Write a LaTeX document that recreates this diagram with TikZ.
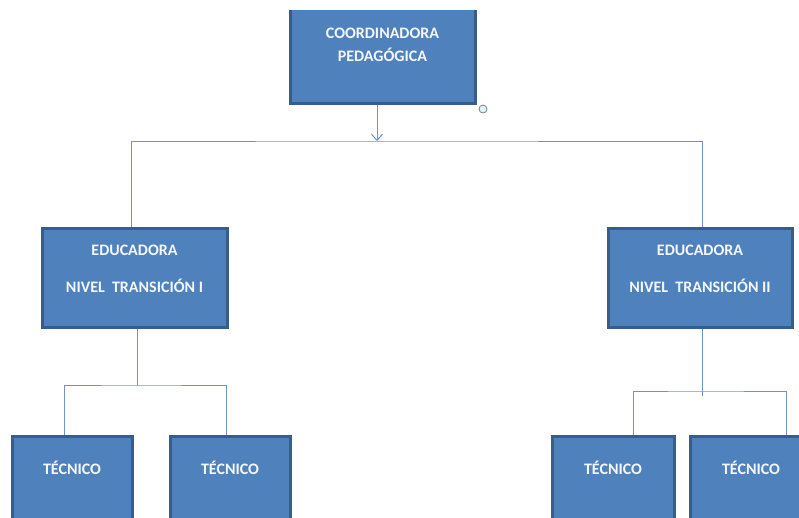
\documentclass[tikz,border=0pt]{standalone}
\usepackage{fontspec}
\setmainfont{Carlito}
\usetikzlibrary{arrows.meta, positioning}

\definecolor{boxfill}{RGB}{79,129,189}
\definecolor{boxline}{RGB}{56,93,138}
\definecolor{linkcol}{RGB}{110,147,204}
\definecolor{txtcol}{RGB}{244,247,252}

\begin{document}
\begin{tikzpicture}[
            x=1pt, y=-1pt,
            >=Stealth,
            box/.style={rectangle, draw=boxline, line width=3pt, fill=boxfill, inner sep=0pt},
            txt/.style={text=txtcol, font=\fontsize{16}{19}\selectfont\bfseries, align=center, inner sep=0pt},
            link/.style={draw=linkcol, line width=1pt},
            handle/.style={circle, draw=gray, fill=cyan!12, line width=0.8pt, minimum size=8pt, inner sep=0pt}
        ]

        \useasboundingbox (0,0) rectangle (799,517);
        \clip (0,0) rectangle (799,517);

        % Caja superior (recortada arriba)
        \begin{scope}
            \clip (0,10) rectangle (799,517);
            \node[box, minimum width=185pt, minimum height=113pt] (coord) at (382.5,46.5) {};
        \end{scope}
        \node[txt] (coordt) at (382.5,44.5) {COORDINADORA\\[4pt]PEDAGÓGICA};
        \node[handle] (hdl) at (483,109) {};

        % Educadoras
        \node[box, minimum width=185pt, minimum height=99pt] (edu1) at (134.5,277.5) {};
        \node[txt] (edu1t) at (134.5,268.5) {EDUCADORA\\[18pt]NIVEL\ \ TRANSICIÓN I};
        \node[box, minimum width=184pt, minimum height=99pt] (edu2) at (700,277.5) {};
        \node[txt] (edu2t) at (700,268.5) {EDUCADORA\\[18pt]NIVEL\ \ TRANSICIÓN II};

        % Tecnicos
        \node[box, minimum width=120pt, minimum height=110pt] (tec1a) at (72,491) {};
        \node[box, minimum width=120pt, minimum height=110pt] (tec1b) at (230,491) {};
        \node[box, minimum width=122pt, minimum height=110pt] (tec2a) at (613,491) {};
        \node[box, minimum width=122pt, minimum height=110pt] (tec2b) at (751,491) {};
        \node[txt] (tec1at) at (72,468) {TÉCNICO};
        \node[txt] (tec1bt) at (230,468) {TÉCNICO};
        \node[txt] (tec2at) at (613,468) {TÉCNICO};
        \node[txt] (tec2bt) at (751,468) {TÉCNICO};

        % Conexiones
        \coordinate (hub) at (377,141);
        \draw[link, -{Straight Barb[length=6pt, width=11pt]}] (hub |- coord.south) -- (hub);
        \draw[link] ([xshift=-3.5pt]edu1.north) |- (hub) -| ([xshift=2pt]edu2.north);

        \coordinate (split1) at (137,385);
        \draw[link] (split1 |- edu1.south) -- (split1);
        \draw[link] ([xshift=-8pt]tec1a.north) |- (split1) -| ([xshift=-4pt]tec1b.north);

        \coordinate (split2) at (702,391);
        \draw[link] (split2 |- edu2.south) -- ([yshift=-5pt]split2);
        \draw[link] ([xshift=20pt]tec2a.north) |- (split2) -| ([xshift=35pt]tec2b.north);

        \end{tikzpicture}
\end{document}
